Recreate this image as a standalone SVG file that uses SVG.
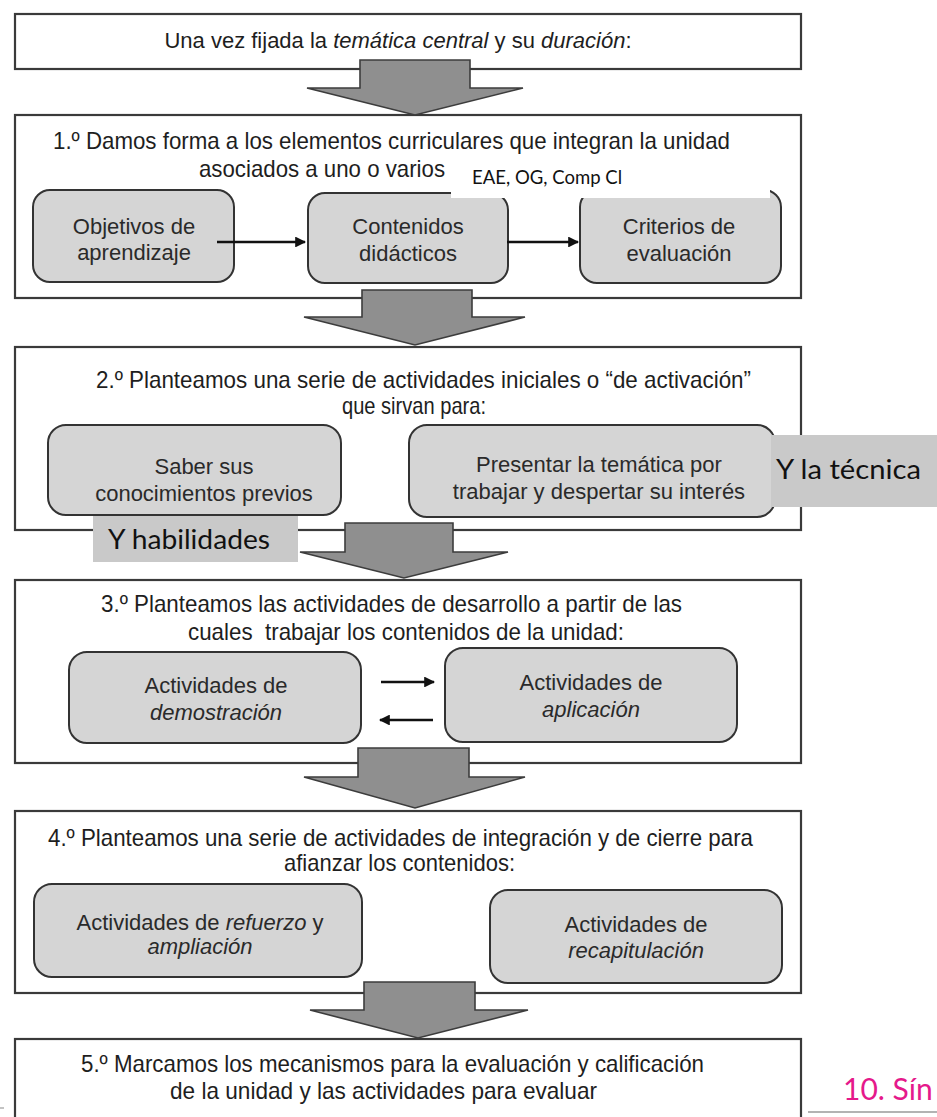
<svg xmlns="http://www.w3.org/2000/svg" width="937" height="1117" viewBox="0 0 937 1117">
<defs>
<style>
.box{fill:#ffffff;stroke:#3a3a3a;stroke-width:2.2}
.node{fill:#d5d5d5;stroke:#333333;stroke-width:2}
.t{font-family:"Liberation Sans",Arial,sans-serif;font-size:24px;fill:#1e1e1e;text-anchor:middle}
.n{font-family:"Liberation Sans",Arial,sans-serif;font-size:22px;fill:#2a2a2a;text-anchor:middle}
.i{font-style:italic}
.big{fill:#8f8f8f;stroke:#3c3c3c;stroke-width:1.6;stroke-linejoin:miter}
.lnk{stroke:#111111;stroke-width:2.6;fill:none}
.note{font-family:Lato,"Open Sans",sans-serif;fill:#111111}
.ov{fill:#c9c9c9}
</style>
<marker id="ah" viewBox="0 0 10 10" refX="9" refY="5" markerWidth="4.2" markerHeight="4.2" orient="auto" markerUnits="strokeWidth">
<path d="M0,0 L10,5 L0,10 z" fill="#111111"/>
</marker>
</defs>

<g id="start">
<rect class="box" x="15" y="14" width="786" height="55"/>
<text class="t" x="398" y="48" style="font-size:22px">Una vez fijada la <tspan class="i">temática central</tspan> y su <tspan class="i">duración</tspan>:</text>
</g>

<g id="step1">
<rect class="box" x="15" y="115" width="786" height="183"/>
<text class="t" x="391.5" y="149" textLength="677" lengthAdjust="spacingAndGlyphs">1.º Damos forma a los elementos curriculares que integran la unidad</text>
<text class="t" x="322" y="177" textLength="246" lengthAdjust="spacingAndGlyphs">asociados a uno o varios</text>
</g>

<g id="node-objetivos">
<rect class="node" x="33" y="190" width="201" height="92" rx="17"/>
<text class="n" x="134" y="234">Objetivos de</text>
<text class="n" x="134" y="260">aprendizaje</text>
</g>
<g id="node-contenidos">
<rect class="node" x="308" y="193" width="200" height="90" rx="17"/>
<text class="n" x="408" y="234">Contenidos</text>
<text class="n" x="408" y="261">didácticos</text>
</g>
<g id="node-criterios">
<rect class="node" x="580" y="190" width="201" height="93" rx="17"/>
<text class="n" x="679" y="234">Criterios de</text>
<text class="n" x="679" y="261">evaluación</text>
</g>

<g id="note-eae">
<rect x="451" y="160" width="319" height="38" fill="#ffffff"/>
<text class="note" x="472" y="184" font-size="19" textLength="150" lengthAdjust="spacingAndGlyphs">EAE, OG, Comp Cl</text>
</g>

<g id="step2">
<rect class="box" x="15" y="347" width="786" height="183"/>
<text class="t" x="423.5" y="388" textLength="655" lengthAdjust="spacingAndGlyphs">2.º Planteamos una serie de actividades iniciales o “de activación”</text>
<text class="t" x="414" y="414" textLength="144" lengthAdjust="spacingAndGlyphs">que sirvan para:</text>
</g>
<g id="node-saber">
<rect class="node" x="48" y="425" width="293" height="90" rx="18"/>
<text class="n" x="204" y="474">Saber sus</text>
<text class="n" x="204" y="501">conocimientos previos</text>
</g>
<g id="node-presentar">
<rect class="node" x="409" y="425" width="366" height="92" rx="18"/>
<text class="n" x="599" y="472">Presentar la temática por</text>
<text class="n" x="599" y="499">trabajar y despertar su interés</text>
</g>

<g id="step3">
<rect class="box" x="15" y="580" width="786" height="183"/>
<text class="t" x="391.5" y="612" textLength="581" lengthAdjust="spacingAndGlyphs">3.º Planteamos las actividades de desarrollo a partir de las</text>
<text class="t" x="406" y="640" textLength="436" lengthAdjust="spacingAndGlyphs" xml:space="preserve">cuales  trabajar los contenidos de la unidad:</text>
</g>
<g id="node-demostracion">
<rect class="node" x="69" y="652" width="292" height="91" rx="18"/>
<text class="n" x="216" y="693">Actividades de</text>
<text class="n i" x="216" y="720">demostración</text>
</g>
<g id="node-aplicacion">
<rect class="node" x="445" y="648" width="292" height="94" rx="18"/>
<text class="n" x="591" y="690">Actividades de</text>
<text class="n i" x="591" y="717">aplicación</text>
</g>

<g id="step4">
<rect class="box" x="15" y="811" width="786" height="182"/>
<text class="t" x="400.5" y="846" textLength="705" lengthAdjust="spacingAndGlyphs">4.º Planteamos una serie de actividades de integración y de cierre para</text>
<text class="t" x="399.5" y="871" textLength="231" lengthAdjust="spacingAndGlyphs">afianzar los contenidos:</text>
</g>
<g id="node-refuerzo">
<rect class="node" x="34" y="884" width="328" height="93" rx="18"/>
<text class="n" x="200" y="930">Actividades de <tspan class="i">refuerzo</tspan> y</text>
<text class="n i" x="200" y="954">ampliación</text>
</g>
<g id="node-recapitulacion">
<rect class="node" x="490" y="890" width="292" height="93" rx="18"/>
<text class="n" x="636" y="932">Actividades de</text>
<text class="n i" x="636" y="958">recapitulación</text>
</g>

<g id="step5">
<rect class="box" x="15" y="1039" width="786" height="100"/>
<text class="t" x="392.5" y="1072" textLength="623" lengthAdjust="spacingAndGlyphs">5.º Marcamos los mecanismos para la evaluación y calificación</text>
<text class="t" x="383.5" y="1099" textLength="427" lengthAdjust="spacingAndGlyphs">de la unidad y las actividades para evaluar</text>
</g>

<g id="connectors">
<polygon class="big" points="360,60 470,60 470,88 523,88 415,115 307,88 360,88"/>
<polygon class="big" points="362,290 472,290 472,317 525,317 415,345 304,317 362,317"/>
<polygon class="big" points="345,523 453,523 453,552 508,552 404,578 300,552 345,552"/>
<polygon class="big" points="358,748 469,748 469,777 525,777 415,808 304,777 358,777"/>
<polygon class="big" points="364,982 475,982 475,1010 528,1010 418,1038 310,1010 364,1010"/>
<line class="lnk" x1="217" y1="242" x2="305" y2="242" marker-end="url(#ah)"/>
<line class="lnk" x1="507" y1="242" x2="578" y2="242" marker-end="url(#ah)"/>
<line class="lnk" x1="381" y1="682" x2="434" y2="682" marker-end="url(#ah)"/>
<line class="lnk" x1="433" y1="720" x2="380" y2="720" marker-end="url(#ah)"/>
</g>

<g id="note-tecnica">
<rect class="ov" x="771" y="435" width="166" height="72"/>
<text class="note" x="776" y="479" font-size="27" textLength="145" lengthAdjust="spacingAndGlyphs">Y la técnica</text>
</g>
<g id="note-habilidades">
<rect class="ov" x="93" y="516" width="205" height="46"/>
<text class="note" x="108" y="549" font-size="27" textLength="162" lengthAdjust="spacingAndGlyphs">Y habilidades</text>
</g>

<g id="footer">
<text x="843" y="1100" font-family="Lato,'Open Sans',sans-serif" font-size="30" fill="#e5198b">10. Sín</text>
<line x1="808" y1="1112" x2="937" y2="1112" stroke="#9a9a9a" stroke-width="1.5"/>
<line x1="0" y1="1108" x2="4" y2="1108" stroke="#9a9a9a" stroke-width="1.2"/>
</g>
</svg>
